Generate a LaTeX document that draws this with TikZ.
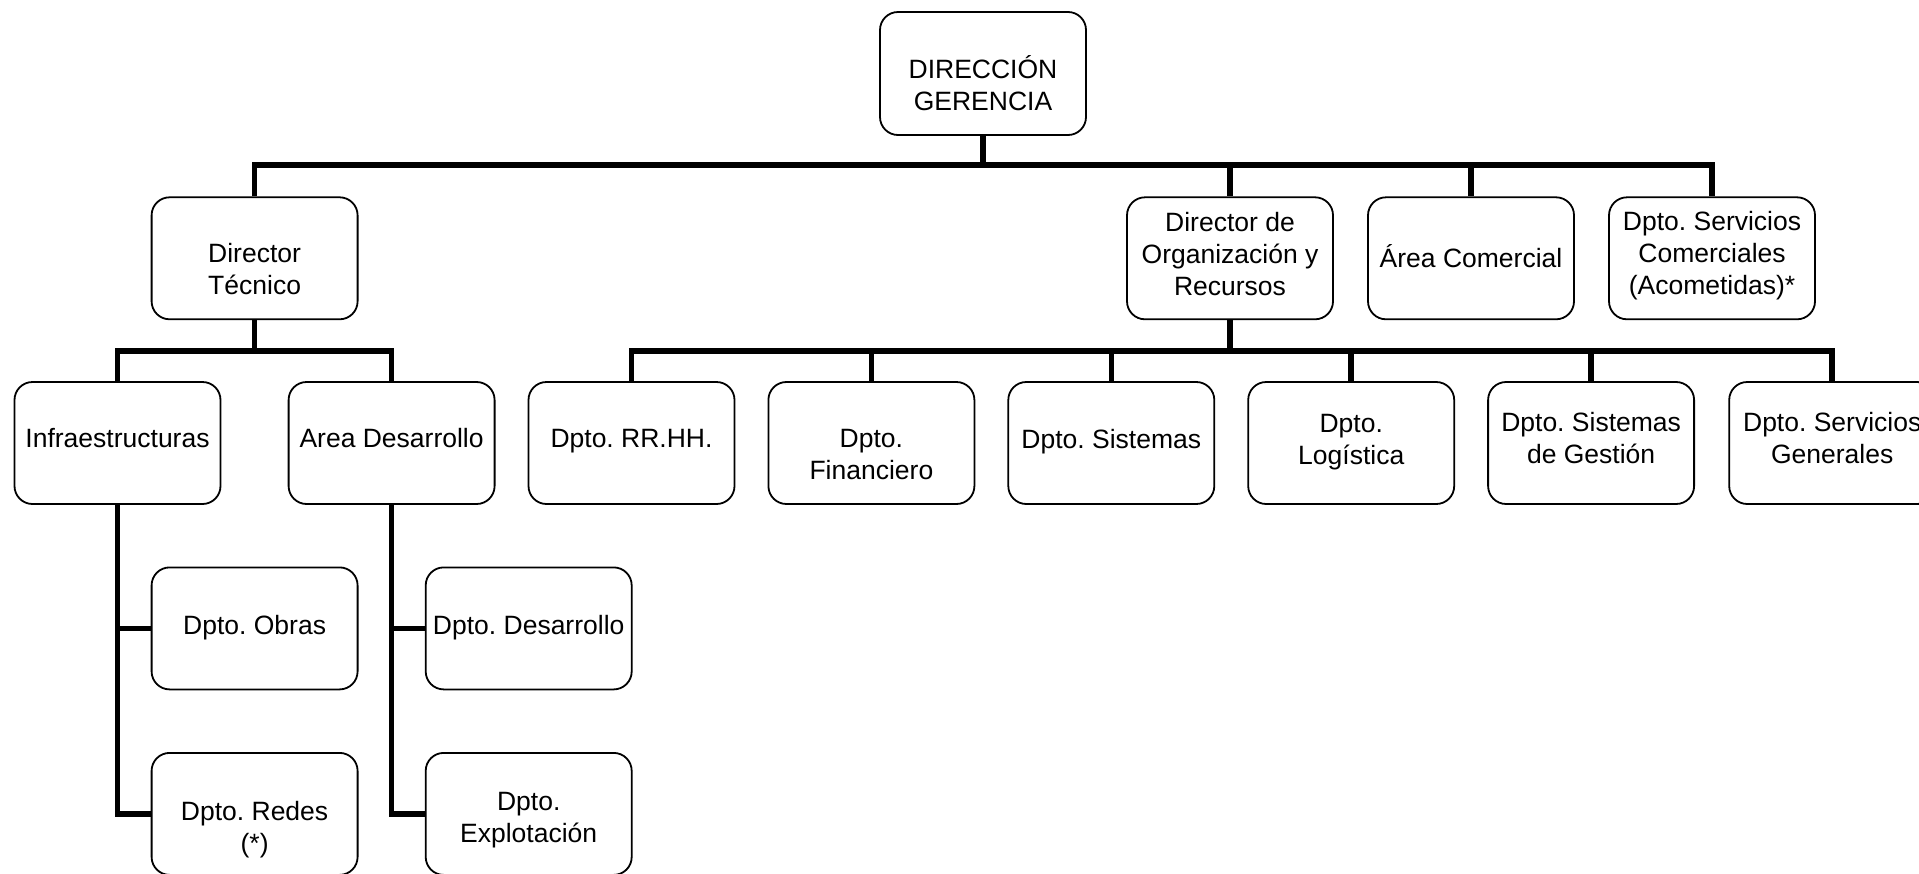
\documentclass[tikz,border=0pt]{standalone}
\usepackage{fontspec}
\setmainfont{Liberation Sans}
\usetikzlibrary{calc}
\begin{document}
\frenchspacing
\begin{tikzpicture}[x=1pt,y=-1pt,
  unit/.style={draw=black,line width=1.8pt,rounded corners=18pt,
    minimum width=206pt,minimum height=122pt,inner sep=0pt},
  caption/.style={align=center,inner sep=0pt,
    font=\fontsize{26.5}{32}\selectfont},
  conn/.style={draw=black,line width=5.5pt,line join=miter}]
\useasboundingbox (0,0) rectangle (1919,873);

% bus levels
\coordinate (busA) at (0,165);
\coordinate (busB) at (0,351);

% boxes
\node[unit,minimum height=123pt] (top) at (983,73.5) {};
\node[unit] (dt)   at (254.6,258.3) {};
\node[unit] (dor)  at (1230,258.3) {};
\node[unit] (com)  at (1471,258.3) {};
\node[unit] (dsc)  at (1712,258.3) {};
\node[unit] (inf)  at (117.5,443) {};
\node[unit] (ard)  at (391.6,443) {};
\node[unit] (obr)  at (254.6,628.4) {};
\node[unit] (red)  at (254.6,813.9) {};
\node[unit] (des)  at (528.7,628.4) {};
\node[unit] (exp)  at (528.7,813.9) {};
\node[unit] (rrhh) at (631.5,443) {};
\node[unit] (fin)  at (871.4,443) {};
\node[unit] (sis)  at (1111.3,443) {};
\node[unit] (log)  at (1351.2,443) {};
\node[unit] (sg)   at (1591.1,443) {};
\node[unit] (sgen) at (1832.2,443) {};

% box captions
\node[caption] (t-top)  at ($(top)+(0,10)$)   {DIRECCIÓN\\GERENCIA};
\node[caption] (t-dt)   at ($(dt)+(0,11)$)    {Director\\Técnico};
\node[caption] (t-dor)  at ($(dor)+(0,-4)$)   {Director de\\Organización y\\Recursos};
\node[caption] (t-com)  at ($(com)+(0,-2)$)   {Área Comercial};
\node[caption] (t-dsc)  at ($(dsc)+(0,-3)$)   {Dpto. Servicios\\Comerciales\\(Acometidas)*};
\node[caption] (t-inf)  at ($(inf)+(0,-5)$)   {Infraestructuras};
\node[caption] (t-ard)  at ($(ard)+(0,-5)$)   {Area Desarrollo};
\node[caption] (t-obr)  at ($(obr)+(0,-1)$)   {Dpto. Obras};
\node[caption] (t-red)  at ($(red)+(0,16)$)   {Dpto. Redes\\(*)};
\node[caption] (t-des)  at ($(des)+(0,-1)$)   {Dpto. Desarrollo};
\node[caption] (t-exp)  at ($(exp)+(0,6)$)    {Dpto.\\Explotación};
\node[caption] (t-rrhh) at ($(rrhh)+(0,-2)$)  {Dpto. RR.HH.};
\node[caption] (t-fin)  at ($(fin)+(0,12)$)   {Dpto.\\Financiero};
\node[caption] (t-sis)  at ($(sis)+(0,-1)$)   {Dpto. Sistemas};
\node[caption] (t-log)  at ($(log)+(0,-1)$)   {Dpto.\\Logística};
\node[caption] (t-sg)   at ($(sg)+(0,-5)$)    {Dpto. Sistemas\\de Gestión};
\node[caption] (t-sgen) at ($(sgen)+(0,-5)$)  {Dpto. Servicios\\Generales};

% connectors from the head
\draw[conn] (top.south) -- (top.south |- busA);
\draw[conn] (dt.north) |- (dsc.north |- busA) -- (dsc.north);
\foreach \n in {dor,com} \draw[conn] (\n.north |- busA) -- (\n.north);

% connectors under the technical director
\draw[conn] (dt.south) -- (dt.south |- busB);
\draw[conn] (inf.north) |- (ard.north |- busB) -- (ard.north);

% connectors under the organisation director
\draw[conn] (dor.south) -- (dor.south |- busB);
\draw[conn] (rrhh.north) |- (sgen.north |- busB) -- (sgen.north);
\foreach \n in {fin,sis,log,sg} \draw[conn] (\n.north |- busB) -- (\n.north);

% side connectors to departments
\draw[conn] (inf.south) |- (red.west);
\draw[conn] (inf.south |- obr.west) -- (obr.west);
\draw[conn] (ard.south) |- (exp.west);
\draw[conn] (ard.south |- des.west) -- (des.west);
\end{tikzpicture}
\end{document}
